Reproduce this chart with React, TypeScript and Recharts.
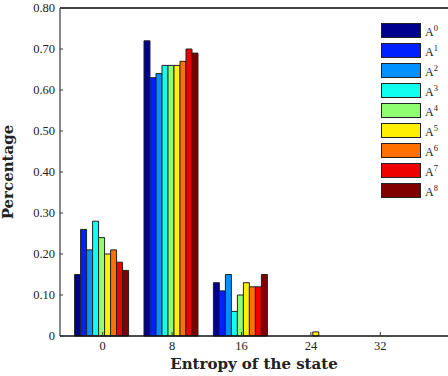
import { BarChart, Bar, XAxis, YAxis } from 'recharts';

// entropy values on the x axis
const entropy = ['0', '8', '16', '24', '32'];

// percentage for each model A^0 .. A^8, one value per entropy bin
const A0 = [0.15, 0.72, 0.13, 0, 0];
const A1 = [0.26, 0.63, 0.11, 0, 0];
const A2 = [0.21, 0.64, 0.15, 0, 0];
const A3 = [0.28, 0.66, 0.06, 0, 0];
const A4 = [0.24, 0.66, 0.10, 0, 0];
const A5 = [0.20, 0.66, 0.13, 0.01, 0];
const A6 = [0.21, 0.67, 0.12, 0, 0];
const A7 = [0.18, 0.70, 0.12, 0, 0];
const A8 = [0.16, 0.69, 0.15, 0, 0];

const seriesValues = [A0, A1, A2, A3, A4, A5, A6, A7, A8];
const seriesColors = [
  '#00008f', '#0020ff', '#0090ff', '#10ffef', '#8fff70',
  '#ffef00', '#ff7000', '#ef0000', '#800000',
];
const yTicks = [0, 0.1, 0.2, 0.3, 0.4, 0.5, 0.6, 0.7, 0.8];

const data = entropy.map((e, i) => {
  const row: Record<string, string | number> = { entropy: e };
  seriesValues.forEach((vals, k) => { row['A' + k] = vals[i]; });
  return row;
});

const tickFont = { fill: '#222', fontSize: 12.5, fontFamily: '"Liberation Serif", serif' };
const titleFont = { fontFamily: '"DejaVu Serif", serif', fontWeight: 'bold', fontSize: 15, fill: '#222' };

function LegendBox() {
  return (
    <div style={{ position: 'absolute', left: 381, top: 18, zIndex: 5, fontFamily: '"Liberation Serif", serif', color: '#222' }}>
      {seriesColors.map((c, k) => (
        <div key={k} style={{ display: 'flex', alignItems: 'flex-end', height: 20 }}>
          <div style={{ width: 38, height: 13, background: c, border: '1px solid #222' }} />
          <span style={{ fontSize: 12, marginLeft: 4, lineHeight: '12px' }}>
            A<sup style={{ fontSize: 8.5, verticalAlign: 5 }}>{k}</sup>
          </span>
        </div>
      ))}
    </div>
  );
}

export default function App() {
  return (
    <div style={{ position: 'absolute', left: 0, top: 0, width: 448, height: 376, background: '#fff' }}>
      <BarChart
        width={448}
        height={376}
        data={data}
        margin={{ top: 8, right: 0, bottom: 0, left: 0 }}
        barCategoryGap="9.5%"
        barGap={0}
      >
        <XAxis
          dataKey="entropy"
          padding={{ left: 8, right: 33 }}
          height={40}
          tick={tickFont}
          tickSize={-4}
          tickMargin={9}
          tickLine={{ stroke: '#333' }}
          axisLine={{ stroke: '#111', strokeWidth: 1.5 }}
          label={{ value: 'Entropy of the state', position: 'insideBottom', offset: 7, style: titleFont }}
        />
        <YAxis
          width={60}
          domain={[0, 0.8]}
          ticks={yTicks}
          interval={0}
          tick={tickFont}
          tickSize={-3}
          tickMargin={8}
          tickLine={{ stroke: '#333' }}
          axisLine={{ stroke: '#111' }}
          tickFormatter={(v: number) => (v === 0 ? '0' : v.toFixed(2))}
          label={{
            value: 'Percentage', angle: -90, position: 'insideLeft', offset: 8,
            style: { ...titleFont, textAnchor: 'middle' },
          }}
        />
        {seriesColors.map((c, k) => (
          <Bar
            key={k}
            dataKey={'A' + k}
            fill={c}
            stroke="#222"
            strokeWidth={1}
            isAnimationActive={false}
          />
        ))}
      </BarChart>
      {/* top frame line of the plot box */}
      <div style={{ position: 'absolute', left: 60, top: 7, width: 388, height: 0, borderTop: '2px solid #444', zIndex: 5 }} />
      <LegendBox />
    </div>
  );
}
